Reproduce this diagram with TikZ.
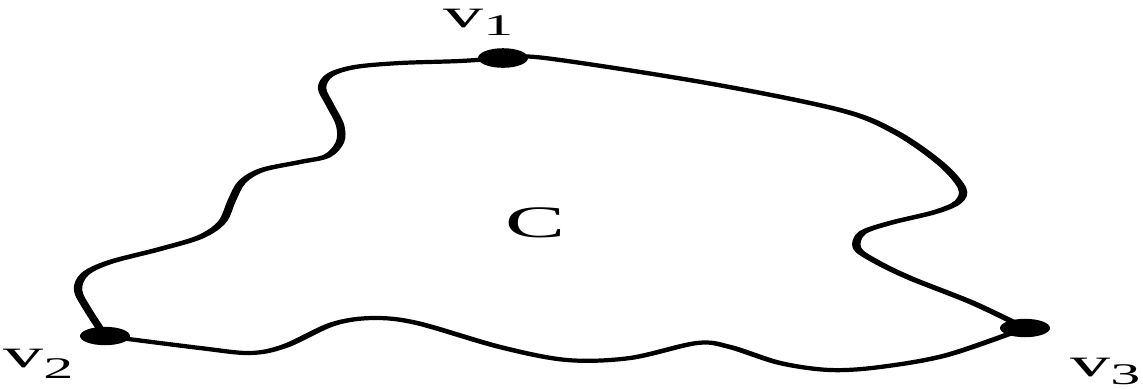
\documentclass[tikz,border=0pt]{standalone}
\usepackage{fontspec}
\setmainfont{Liberation Serif}
\newcommand{\vlabel}[2]{\scalebox{2}[1]{v\raisebox{-#2}{\fontsize{15}{15}\selectfont #1}}}
\begin{document}
\begin{tikzpicture}[x=0.5pt,y=-0.5pt,
  lbl/.style={inner sep=0pt, anchor=base west, font=\fontsize{20}{24}\selectfont},
  edge/.style={line width=2.1pt, line join=round, line cap=round},
  vdot/.style={fill=black}]
\useasboundingbox (0,0) rectangle (1143,388);
\begin{scope}[transform canvas={xscale=2}, x=0.25pt]
  \coordinate (v1) at (503,58);
  \coordinate (v2) at (105,336);
  \coordinate (v3) at (1025,328);
  % left boundary v2 -> v1
  \draw[edge] plot[smooth, tension=0.55] coordinates {(v2) (88,310) (78,290) (85,274) (110,262) (160,249) (200,237) (222,222) (232,200) (242,182) (262,170) (300,162) (327,156) (340,142) (340,125) (330,105) (322,88) (330,75) (355,67) (400,63) (460,61) (v1)};
  % right boundary v1 -> v3
  \draw[edge] plot[smooth, tension=0.55] coordinates {(v1) (545,58) (707,83) (840,110) (895,132) (940,163) (962,188) (958,202) (935,212) (890,223) (862,233) (857,248) (875,261) (910,278) (973,303) (v3)};
  % bottom boundary v2 -> v3
  \draw[edge] plot[smooth, tension=0.55] coordinates {(v2) (200,348) (250,353) (285,346) (333,324) (373,318) (417,323) (500,347) (567,360) (630,358) (697,343) (730,347) (780,363) (830,370) (880,367) (947,355) (v3)};
  \fill[vdot] (v1) ellipse [x radius=6.25pt, y radius=4.9pt];
  \fill[vdot] (v2) ellipse [x radius=6.25pt, y radius=4.6pt];
  \fill[vdot] (v3) ellipse [x radius=6.25pt, y radius=4.6pt];
\end{scope}
\node[lbl] (l1) at (443,27) {\vlabel{1}{4pt}};
\node[lbl] (l2) at (3,367) {\vlabel{2}{5.5pt}};
\node[lbl] (l3) at (1070,376) {\vlabel{3}{4pt}};
\node[lbl, font=\fontsize{22.5}{26}\selectfont] (c) at (505,237) {\scalebox{2}[1]{C}};
\end{tikzpicture}
\end{document}
